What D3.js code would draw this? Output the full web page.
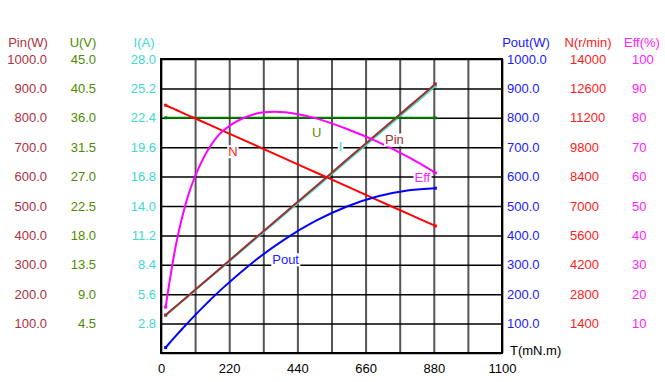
<!DOCTYPE html>
<html>
<head>
<meta charset="utf-8">
<script src="https://cdn.jsdelivr.net/npm/d3@7"></script>
<style>
  body { margin: 0; background: #fff; }
  svg { font-family: "Liberation Sans", Arial, sans-serif; }
</style>
</head>
<body>
<div id="chart"></div>
<script>
// torque samples (mN.m)
var torque = [15, 30, 50, 75, 100, 150, 200, 300, 400, 500, 600, 700, 800, 885];
var pin = [129, 143, 161, 183, 206, 251, 296, 387, 477, 567, 658, 748, 838, 915];
var volt = [36, 36, 36, 36, 36, 36, 36, 36, 36, 36, 36, 36, 36, 36];
var amp = [3.58, 3.96, 4.46, 5.09, 5.72, 6.97, 8.22, 10.75, 13.25, 15.75, 18.28, 20.78, 23.28, 25.42];
var speed = [11800, 11700, 11570, 11400, 11240, 10910, 10580, 9920, 9255, 8595, 7935, 7270, 6610, 6050];
var pout = [18.5, 36.8, 60.6, 89.5, 117.7, 171.3, 221.5, 311.5, 387.6, 449.9, 498.3, 533, 553.7, 560.6];
var eff = [15.6, 25.8, 37.7, 48.9, 57.4, 68.8, 75.6, 81.2, 81.9, 79.8, 76.2, 71.8, 66.5, 61.3];

var xTicks = [0, 220, 440, 660, 880, 1100];
var pinTicks = [100, 200, 300, 400, 500, 600, 700, 800, 900, 1000];
var uTicks = [4.5, 9, 13.5, 18, 22.5, 27, 31.5, 36, 40.5, 45];
var iTicks = [2.8, 5.6, 8.4, 11.2, 14, 16.8, 19.6, 22.4, 25.2, 28];
var poutTicks = [100, 200, 300, 400, 500, 600, 700, 800, 900, 1000];
var nTicks = [1400, 2800, 4200, 5600, 7000, 8400, 9800, 11200, 12600, 14000];
var effTicks = [10, 20, 30, 40, 50, 60, 70, 80, 90, 100];

var W = 665, H = 382;
var m = { left: 161, right: 502, top: 59, bottom: 353 };

var svg = d3.select("#chart").append("svg")
  .attr("width", W).attr("height", H);

var x = d3.scaleLinear().domain([0, 1100]).range([m.left, m.right]);
var yPin = d3.scaleLinear().domain([0, 1000]).range([m.bottom, m.top]);
var yU = d3.scaleLinear().domain([0, 45]).range([m.bottom, m.top]);
var yI = d3.scaleLinear().domain([0, 28]).range([m.bottom, m.top]);
var yPout = d3.scaleLinear().domain([0, 1000]).range([m.bottom, m.top]);
var yN = d3.scaleLinear().domain([0, 14000]).range([m.bottom, m.top]);
var yEff = d3.scaleLinear().domain([0, 100]).range([m.bottom, m.top]);

// grid
svg.append("g")
  .attr("transform", "translate(0," + m.bottom + ")")
  .call(d3.axisBottom(x).tickValues(d3.range(0, 1101, 110)).tickSize(-(m.bottom - m.top)).tickFormat(""))
  .call(function (g) {
    g.select(".domain").remove();
    g.selectAll("line").attr("stroke", "#555").attr("stroke-width", 2);
  });
svg.append("g")
  .attr("transform", "translate(" + m.left + ",0)")
  .call(d3.axisLeft(yPin).tickValues(d3.range(0, 1001, 100)).tickSize(-(m.right - m.left)).tickFormat(""))
  .call(function (g) {
    g.select(".domain").remove();
    g.selectAll("line").attr("stroke", "#000").attr("stroke-width", 1.5);
  });
svg.append("rect")
  .attr("x", m.left).attr("y", m.top)
  .attr("width", m.right - m.left).attr("height", m.bottom - m.top)
  .attr("fill", "none").attr("stroke", "#000").attr("stroke-width", 2);

// tick label columns
function column(scale, ticks, fmt, xpos, anchor, color, title, titleX) {
  var g = svg.append("g").attr("transform", "translate(" + xpos + ",0)");
  var axis = (anchor === "end" ? d3.axisLeft(scale) : d3.axisRight(scale))
    .tickValues(ticks).tickSize(0).tickPadding(0).tickFormat(fmt);
  g.call(axis);
  g.select(".domain").remove();
  g.selectAll("text")
    .attr("fill", color)
    .style("font-size", "13px")
    .style("font-family", "Liberation Sans, Arial, sans-serif");
  svg.append("text")
    .attr("x", titleX).attr("y", 42).attr("dy", "0.35em")
    .attr("text-anchor", "middle")
    .attr("fill", color).style("font-size", "13px")
    .text(title);
}

column(yPin, pinTicks, d3.format(".1f"), 47, "end", "#b03040", "Pin(W)", 28);
column(yU, uTicks, d3.format(".1f"), 96, "end", "#4f8a00", "U(V)", 83);
column(yI, iTicks, d3.format(".1f"), 156, "end", "#40d8d0", "I(A)", 144);
column(yPout, poutTicks, d3.format(".1f"), 507, "start", "#2020ff", "Pout(W)", 526);
column(yN, nTicks, d3.format("d"), 570, "start", "#ff2020", "N(r/min)", 588);
column(yEff, effTicks, d3.format("d"), 632, "start", "#ff20ff", "Eff(%)", 642);

// x axis labels
var xa = svg.append("g").attr("transform", "translate(0," + (m.bottom + 11) + ")")
  .call(d3.axisBottom(x).tickValues(xTicks).tickSize(0).tickPadding(0).tickFormat(d3.format("d")));
xa.select(".domain").remove();
xa.selectAll("text").attr("fill", "#000").style("font-size", "13px")
  .style("font-family", "Liberation Sans, Arial, sans-serif");
svg.append("text")
  .attr("x", 510).attr("y", 355)
  .attr("fill", "#000").style("font-size", "13px")
  .text("T(mN.m)");

// curves
var series = [
  { name: "I", vals: amp, y: yI, color: "#40e0d0", lab: [579, 19.65] },
  { name: "Pin", vals: pin, y: yPin, color: "#a52a2a", lab: [753, 725] },
  { name: "U", vals: volt, y: yU, color: "#008000", lab: [502, 33.7] },
  { name: "N", vals: speed, y: yN, color: "#ff0000", lab: [232, 9588] },
  { name: "Eff", vals: eff, y: yEff, color: "#ff00ff", lab: [843, 59.6] },
  { name: "Pout", vals: pout, y: yPout, color: "#0000ff", lab: [402, 317] }
];

var labelColor = { I: "#40d8d0", Pin: "#a03030", U: "#6a8a00", N: "#ff2020", Eff: "#ff20ff", Pout: "#2020ff" };

series.forEach(function (s) {
  var pts = torque.map(function (t, i) { return [t, s.vals[i]]; });
  var line = d3.line()
    .x(function (d) { return x(d[0]); })
    .y(function (d) { return s.y(d[1]); })
    .curve(d3.curveCatmullRom.alpha(0.5));
  svg.append("path")
    .datum(pts)
    .attr("d", line)
    .attr("fill", "none")
    .attr("stroke", s.color)
    .attr("stroke-width", 2);
  [pts[0], pts[pts.length - 1]].forEach(function (p) {
    svg.append("rect")
      .attr("x", x(p[0]) - 1.5).attr("y", s.y(p[1]) - 1.5)
      .attr("width", 3).attr("height", 3)
      .attr("fill", s.color);
  });
});

// curve labels on white boxes
series.forEach(function (s) {
  var tx = x(s.lab[0]), ty = s.y(s.lab[1]);
  var g = svg.append("g");
  var t = g.append("text")
    .attr("x", tx).attr("y", ty).attr("dy", "0.35em")
    .attr("text-anchor", "middle")
    .attr("fill", labelColor[s.name])
    .style("font-size", "13px")
    .text(s.name);
  var b = t.node().getBBox();
  g.insert("rect", "text")
    .attr("x", b.x - 1).attr("y", b.y + 1)
    .attr("width", b.width + 2).attr("height", b.height - 2)
    .attr("fill", "#fff");
});
</script>
</body>
</html>
